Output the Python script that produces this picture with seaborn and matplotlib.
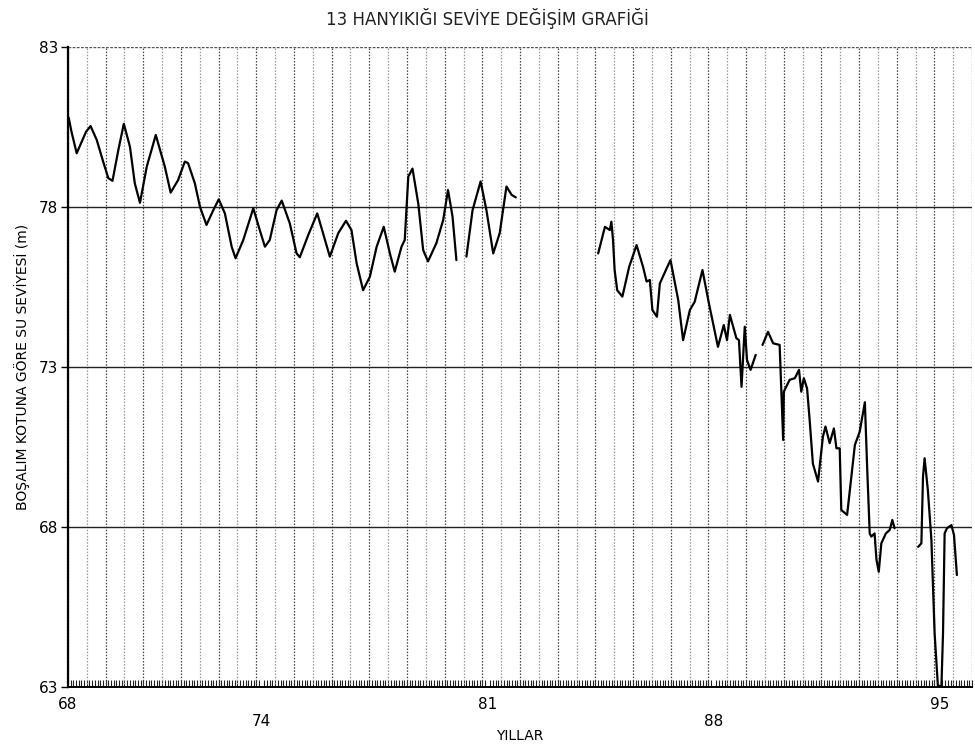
import numpy as np
import pandas as pd
import seaborn as sns
import matplotlib.pyplot as plt

# okunan degerler (NaN = kayit yok)
yil = [1968.02, 1968.11, 1968.27, 1968.56, 1968.70, 1968.89, 1969.09, 1969.25, 1969.38, 1969.56,
       1969.73, 1969.92, 1970.07, 1970.23, 1970.44, 1970.72, 1971.00, 1971.18, 1971.41, 1971.62,
       1971.72, 1971.93, 1972.09, 1972.29, 1972.50, 1972.67, 1972.86, 1973.07, 1973.19, 1973.43,
       1973.74, 1973.94, 1974.10, 1974.25, 1974.46, 1974.62, 1974.87, 1975.08, 1975.18, 1975.44,
       1975.72, 1975.90, 1976.11, 1976.37, 1976.61, 1976.78, 1976.94, 1977.14, 1977.35, 1977.56,
       1977.78, 1977.97, 1978.12, 1978.33, 1978.43, 1978.54, 1978.67, 1978.85, 1979.00, 1979.15,
       1979.41, 1979.62, 1979.77, 1979.91, 1980.03, np.nan,
       1980.34, 1980.53, 1980.78, 1980.96, 1981.17, 1981.37, 1981.58, 1981.74, 1981.87, np.nan,
       1984.42, 1984.63, 1984.78, 1984.83, 1984.88, 1984.93, 1985.01, 1985.17, 1985.38, 1985.61,
       1985.81, 1985.92, 1986.02, 1986.10, 1986.24, 1986.33, 1986.54, 1986.66, 1986.90, 1987.05,
       1987.26, 1987.41, 1987.65, 1987.85, 1988.13, 1988.31, 1988.41, 1988.50, 1988.70, 1988.78,
       1988.86, 1988.96, 1989.03, 1989.14, 1989.30, np.nan,
       1989.51, 1989.68, 1989.84, 1990.04, 1990.15, 1990.17, 1990.35, 1990.51, 1990.64, 1990.71,
       1990.79, 1990.89, 1990.97, 1991.07, 1991.23, 1991.38, 1991.46, 1991.59, 1991.72, 1991.80,
       1991.90, 1991.95, 1992.13, 1992.37, 1992.52, 1992.68, 1992.75, 1992.83, 1992.88, 1992.98,
       1993.04, 1993.11, 1993.19, 1993.33, 1993.45, 1993.53, 1993.60, np.nan,
       1994.33, 1994.43, 1994.48, 1994.53, 1994.63, 1994.74, 1994.84, 1994.94, 1995.05, 1995.10,
       1995.15, 1995.22, 1995.36, 1995.44, 1995.53]
seviye = [80.80, 80.35, 79.68, 80.35, 80.53, 80.10, 79.42, 78.90, 78.82, 79.78,
          80.60, 79.88, 78.74, 78.13, 79.26, 80.25, 79.26, 78.45, 78.84, 79.42,
          79.37, 78.74, 78.00, 77.44, 77.90, 78.24, 77.80, 76.76, 76.40, 76.97,
          77.96, 77.28, 76.76, 76.97, 77.90, 78.20, 77.49, 76.55, 76.43, 77.12,
          77.80, 77.18, 76.45, 77.18, 77.57, 77.28, 76.24, 75.40, 75.82, 76.76,
          77.38, 76.55, 75.98, 76.76, 76.97, 78.95, 79.20, 78.10, 76.66, 76.30,
          76.87, 77.59, 78.53, 77.70, 76.34, np.nan,
          76.45, 77.90, 78.80, 77.90, 76.55, 77.18, 78.64, 78.38, 78.30, np.nan,
          76.55, 77.38, 77.28, 77.54, 76.97, 76.03, 75.40, 75.20, 76.13, 76.81,
          76.13, 75.67, 75.72, 74.78, 74.57, 75.61, 76.08, 76.34, 75.09, 73.84,
          74.78, 75.04, 76.03, 74.99, 73.63, 74.31, 73.84, 74.63, 73.90, 73.84,
          72.38, 74.26, 73.22, 72.91, 73.38, np.nan,
          73.69, 74.10, 73.74, 73.69, 70.72, 72.23, 72.60, 72.65, 72.91, 72.23,
          72.65, 72.33, 71.34, 69.98, 69.42, 70.82, 71.14, 70.62, 71.08, 70.46,
          70.46, 68.53, 68.38, 70.56, 70.98, 71.90, 69.88, 67.80, 67.70, 67.80,
          66.97, 66.60, 67.49, 67.80, 67.91, 68.22, 67.96, np.nan,
          67.38, 67.49, 69.57, 70.15, 69.16, 67.60, 64.68, 63.06, 63.00, 64.68,
          67.80, 67.96, 68.06, 67.75, 66.50]

y_ticks = [63, 68, 73, 78, 83]
x_ticks = [1968, 1974, 1981, 1988, 1995]
x_labels = ['68', '\n74', '81', '\n88', '95']

df = pd.DataFrame({'yil': yil, 'seviye': seviye})
df['parca'] = df['yil'].isna().cumsum()
df = df.dropna()

sns.set_theme(style='white')
plt.rcParams['font.family'] = ['DejaVu Sans']

fig = plt.figure(figsize=(9.75, 7.52), dpi=100)
ax = fig.add_axes([0.0697, 0.0864, 0.9273, 0.8511])

# dikey kilavuz cizgileri (7 ayda bir)
for k, xv in enumerate(np.arange(1968, 1996.01, 7 / 12)):
    ax.axvline(xv, color='#444444' if k % 2 == 0 else '#999999',
               lw=0.9, ls=(0, (1.2, 1.3)), zorder=1)
for yv in [68, 73, 78]:
    ax.axhline(yv, color='#222222', lw=1.0, zorder=1)
ax.axhline(83, color='#555555', lw=1.0, ls=(0, (2, 1)), zorder=1)

sns.lineplot(data=df, x='yil', y='seviye', units='parca', estimator=None,
             color='black', lw=1.6, sort=False, ax=ax, zorder=3)

ax.set_xlim(1968, 1996)
ax.set_ylim(63, 83)
ax.set_yticks(y_ticks)
ax.set_xticks(x_ticks)
ax.set_xticklabels(x_labels)
ax.set_xticks(np.arange(1968, 1996.01, 1 / 12), minor=True)
ax.tick_params(axis='y', which='major', left=True, length=5, width=1,
               labelsize=11, pad=2, colors='black')
ax.tick_params(axis='x', which='major', bottom=False, labelsize=11, pad=1,
               labelcolor='black')
ax.tick_params(axis='x', which='minor', bottom=True, direction='in',
               length=5, width=0.8, color='#222222')

for s in ['top', 'right']:
    ax.spines[s].set_visible(False)
ax.spines['left'].set_color('black')
ax.spines['left'].set_linewidth(1.6)
ax.spines['bottom'].set_color('black')
ax.spines['bottom'].set_linewidth(1.4)

ax.set_xlabel('YILLAR', fontsize=10, labelpad=0, color='black')
ax.set_ylabel('BOŞALIM KOTUNA GÖRE SU SEVİYESİ (m)', fontsize=10, labelpad=6,
              color='black')
fig.text(0.5, 0.975, '13 HANYIKIĞI SEVİYE DEĞİŞİM GRAFİĞİ', ha='center',
         va='center', fontsize=12, color='#222222')

fig.savefig('out.png', dpi=100)
